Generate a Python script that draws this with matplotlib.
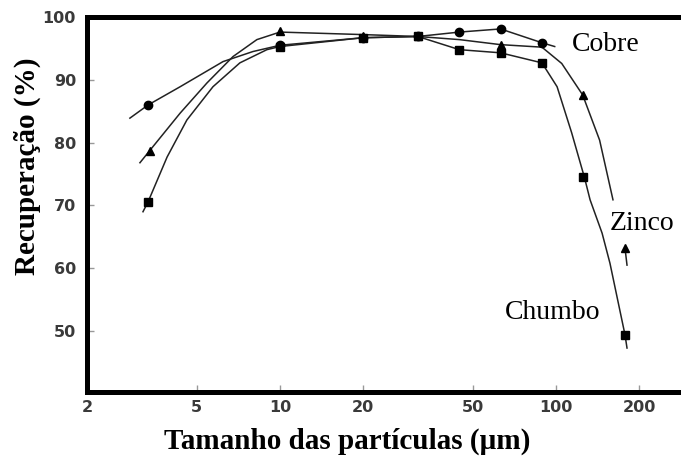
import numpy as np
import matplotlib
matplotlib.use("Agg")
import matplotlib.pyplot as plt

# marker points (particle size um, recovery %)
cobre_x = [3.33, 10, 20, 31.6, 44.7, 63, 89]
cobre_y = [86.0, 95.5, 96.7, 96.9, 97.6, 98.1, 95.9]
zinco_x = [3.37, 10, 20, 31.6, 63, 125, 178]
zinco_y = [78.7, 97.8, 97.0, 96.9, 95.6, 87.6, 63.2]
chumbo_x = [3.33, 10, 20, 31.6, 44.7, 63, 89, 125, 178]
chumbo_y = [70.6, 95.3, 96.7, 96.9, 94.8, 94.3, 92.7, 74.5, 49.4]

# hand traced curves
cobre_cx = [2.86, 3.33, 4.35, 6.22, 7.98, 10, 20, 31.6, 44.7, 63, 89, 99]
cobre_cy = [83.9, 86.0, 88.9, 92.9, 94.5, 95.5, 96.7, 96.9, 97.6, 98.1, 95.9, 95.3]
zinco_cx = [3.11, 3.37, 4.35, 5.44, 6.76, 8.25, 10, 20, 31.6, 44.7, 63, 89, 105, 125, 144, 161,
            np.nan, 178, 181]
zinco_cy = [76.8, 78.7, 84.7, 89.5, 93.7, 96.4, 97.6, 97.2, 96.9, 96.4, 95.6, 95.2, 92.6, 87.6, 80.4, 70.9,
            np.nan, 63.2, 60.5]
chumbo_cx = [3.19, 3.33, 3.90, 4.60, 5.72, 7.16, 8.97, 10, 20, 31.6, 44.7, 63, 89, 101, 114, 127, 133,
             147, 157, 178, 181]
chumbo_cy = [69.0, 70.6, 77.7, 83.6, 88.9, 92.7, 94.8, 95.3, 96.7, 96.9, 94.8, 94.3, 92.7, 88.9, 81.6, 74.4,
             70.9, 65.6, 60.8, 49.4, 47.3]

xticks = [2, 5, 10, 20, 50, 100, 200]
yticks = [50, 60, 70, 80, 90, 100]

fig = plt.figure(figsize=(6.81, 4.62), dpi=100)
ax = fig.add_axes([0.1278, 0.1515, 0.8722, 0.8117])

lc = "#222222"
ax.plot(cobre_cx, cobre_cy, color=lc, lw=1.1)
ax.plot(zinco_cx, zinco_cy, color=lc, lw=1.1)
ax.plot(chumbo_cx, chumbo_cy, color=lc, lw=1.1)
ax.plot(cobre_x, cobre_y, "o", color="black", ms=6)
ax.plot(zinco_x, zinco_y, "^", color="black", ms=6)
ax.plot(chumbo_x, chumbo_y, "s", color="black", ms=6)

serif = ["Liberation Serif", "DejaVu Serif"]
ax.text(114, 95.6, "Cobre", fontsize=20, family=serif, va="center", ha="left")
ax.text(157, 67.2, "Zinco", fontsize=20, family=serif, va="center", ha="left")
ax.text(65.3, 52.9, "Chumbo", fontsize=20, family=serif, va="center", ha="left")

ax.set_xscale("log")
ax.set_xlim(2, 284)
ax.set_ylim(40.3, 100)
ax.set_xticks(xticks)
ax.set_xticklabels([str(t) for t in xticks], fontweight="bold")
ax.xaxis.set_minor_locator(matplotlib.ticker.NullLocator())
ax.set_yticks(yticks)
ax.set_yticklabels([str(t) for t in yticks], fontweight="bold")
ax.tick_params(direction="in", length=5, width=1, color="#999999", labelsize=11.5,
               labelcolor="#3a3a3a")
ax.tick_params(axis="y", pad=8)
ax.tick_params(axis="x", pad=6)

for s in ["left", "bottom", "top"]:
    ax.spines[s].set_linewidth(3.6)
ax.spines["right"].set_visible(False)

fig.text(0.04, 0.64, "Recuperação (%)", rotation=90, fontsize=21, fontweight="bold",
         family=serif, ha="center", va="center")
fig.text(0.51, 0.045, "Tamanho das partículas (µm)", fontsize=21, fontweight="bold",
         family=serif, ha="center", va="center")

fig.savefig("out.png", dpi=100)
